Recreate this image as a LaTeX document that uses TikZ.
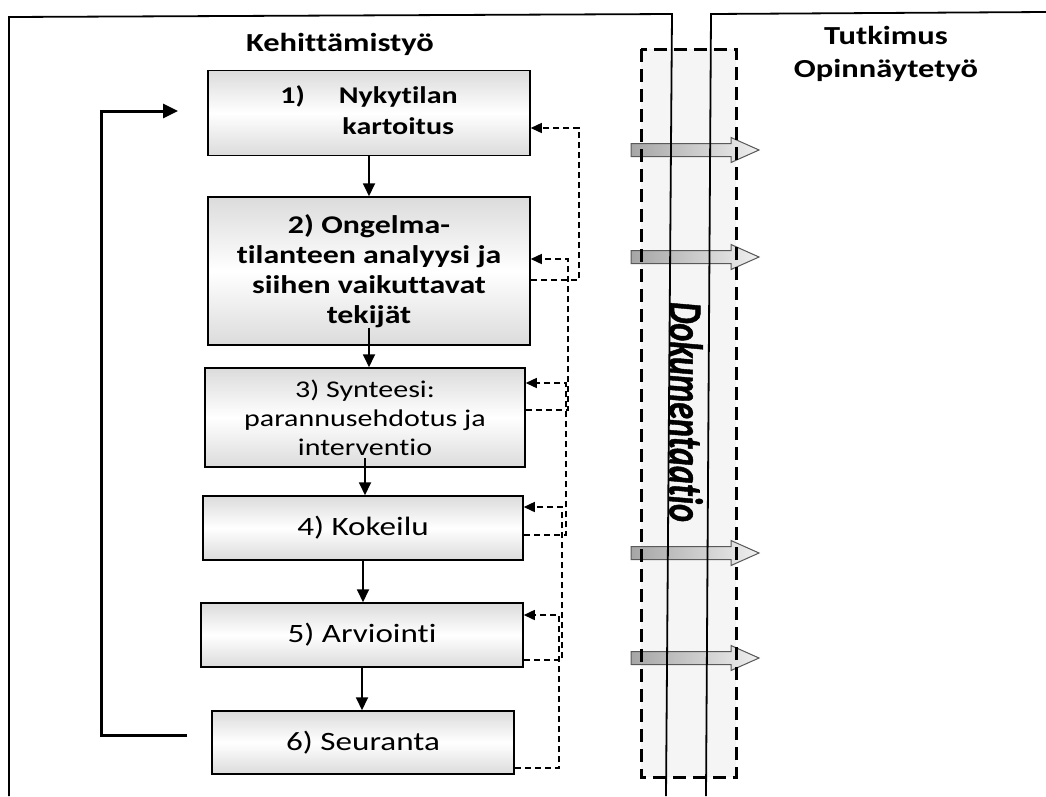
\documentclass[tikz,border=0pt]{standalone}
\usepackage{fontspec}
\setmainfont{Carlito}[FakeStretch=1.25, Ligatures=NoCommon]
\newfontfamily\dokfont{Carlito}[Ligatures=NoCommon, FakeBold=1.2]
\usetikzlibrary{arrows.meta}
\begin{document}
\begin{tikzpicture}[x=1pt,y=-1pt,
  box/.style={draw=black, line width=1.5pt, top color=gray!28, bottom color=gray!28, middle color=white, align=center, inner sep=0pt},
  flow/.style={line width=1.8pt, -{Triangle[length=13pt,width=12pt]}},
  fb/.style={line width=1.4pt, dash pattern=on 6pt off 4pt, -{Triangle[length=11pt,width=10pt]}},
  loopline/.style={line width=3pt, -{Triangle[length=15pt,width=14pt]}},
  frame/.style={line width=1.8pt},
  blockarrow/.style={left color=gray!70, right color=gray!12, draw=black!65, line width=1pt},
  hdr/.style={font=\fontsize{26}{33}\selectfont\bfseries, align=center}
]
\useasboundingbox (0,0) rectangle (1046,796);

% documentation band
\fill[gray!8] (641,49) rectangle (736,777);
\foreach \yy in {150,257,553,658}{
  \filldraw[blockarrow] (631,\yy-6.5) -- (731,\yy-6.5) -- (731,\yy-12.5) -- (759,\yy) -- (731,\yy+12.5) -- (731,\yy+6.5) -- (631,\yy+6.5) -- cycle;
}
\draw[line width=3pt, dash pattern=on 13pt off 7pt] (641,49) rectangle (736,777);

% frames
\draw[frame] (9,796) -- (9,17) -- (672,14) -- (666,796);
\draw[frame] (706,796) -- (711,14) -- (1046,12);

% headers
\node[hdr] (kh) at (340,44) {Kehittämistyö};
\node[hdr] (tu) at (886,54) {Tutkimus\\Opinnäytetyö};
\node[rotate=-90, font=\dokfont\fontsize{34}{34}\selectfont\bfseries\itshape] (dok) at (686,412) {\scalebox{1}[1.4]{Dokumentaatio}};

% boxes
\node[box, minimum width=322pt, minimum height=85pt, font=\fontsize{24}{31}\selectfont\bfseries] (b1) at (369,113)
  {\begin{tabular}{@{}l@{\hspace{34pt}}c@{}}1) & Nykytilan\\ & kartoitus\end{tabular}};
\node[box, minimum width=322pt, minimum height=148pt, font=\fontsize{25.5}{30}\selectfont\bfseries] (b2) at (369,271)
  {2) Ongelma-\\tilanteen analyysi ja\\siihen vaikuttavat\\tekijät};
\node[box, minimum width=320pt, minimum height=99pt, font=\fontsize{24}{29}\selectfont] (b3) at (365,417.5)
  {3) Synteesi:\\parannusehdotus ja\\interventio};
\node[box, minimum width=320pt, minimum height=64pt, font=\fontsize{26.5}{30}\selectfont] (b4) at (363,528) {4) Kokeilu};
\node[box, minimum width=322pt, minimum height=64pt, font=\fontsize{26.5}{30}\selectfont] (b5) at (362,635) {5) Arviointi};
\node[box, minimum width=302pt, minimum height=63pt, font=\fontsize{26.5}{30}\selectfont] (b6) at (363,742.5) {6) Seuranta};

% main flow
\draw[flow] (b1.south) -- (b2.north);
\draw[flow] ([yshift=18pt]b2.south) -- (b2.south |- b3.north);
\draw[flow] ([yshift=10pt]b3.south) -- (b3.south |- b4.north);
\draw[flow] (b4.south) -- (b4.south |- b5.north);
\draw[flow] (b5.south) -- (b5.south |- b6.north);

% loop back
\coordinate (L1) at (187,735);
\coordinate (L2) at (178,111);
\draw[loopline] (L1) -| (101,111) -- (L2);

% feedback
\draw[fb] (b2.east |- 0,280) -- (579,280) -- (579,128) -- (b1.east |- 0,128);
\draw[fb] (b3.east |- 0,410) -- (568,410) -- (568,259) -- (b2.east |- 0,259);
\draw[fb] (b4.east |- 0,535) -- (566,535) -- (566,383) -- (b3.east |- 0,383);
\draw[fb] (b5.east |- 0,660) -- (562,660) -- (562,507) -- (b4.east |- 0,507);
\draw[fb] (b6.east |- 0,768) -- (559,768) -- (559,615) -- (b5.east |- 0,615);
\end{tikzpicture}
\end{document}
